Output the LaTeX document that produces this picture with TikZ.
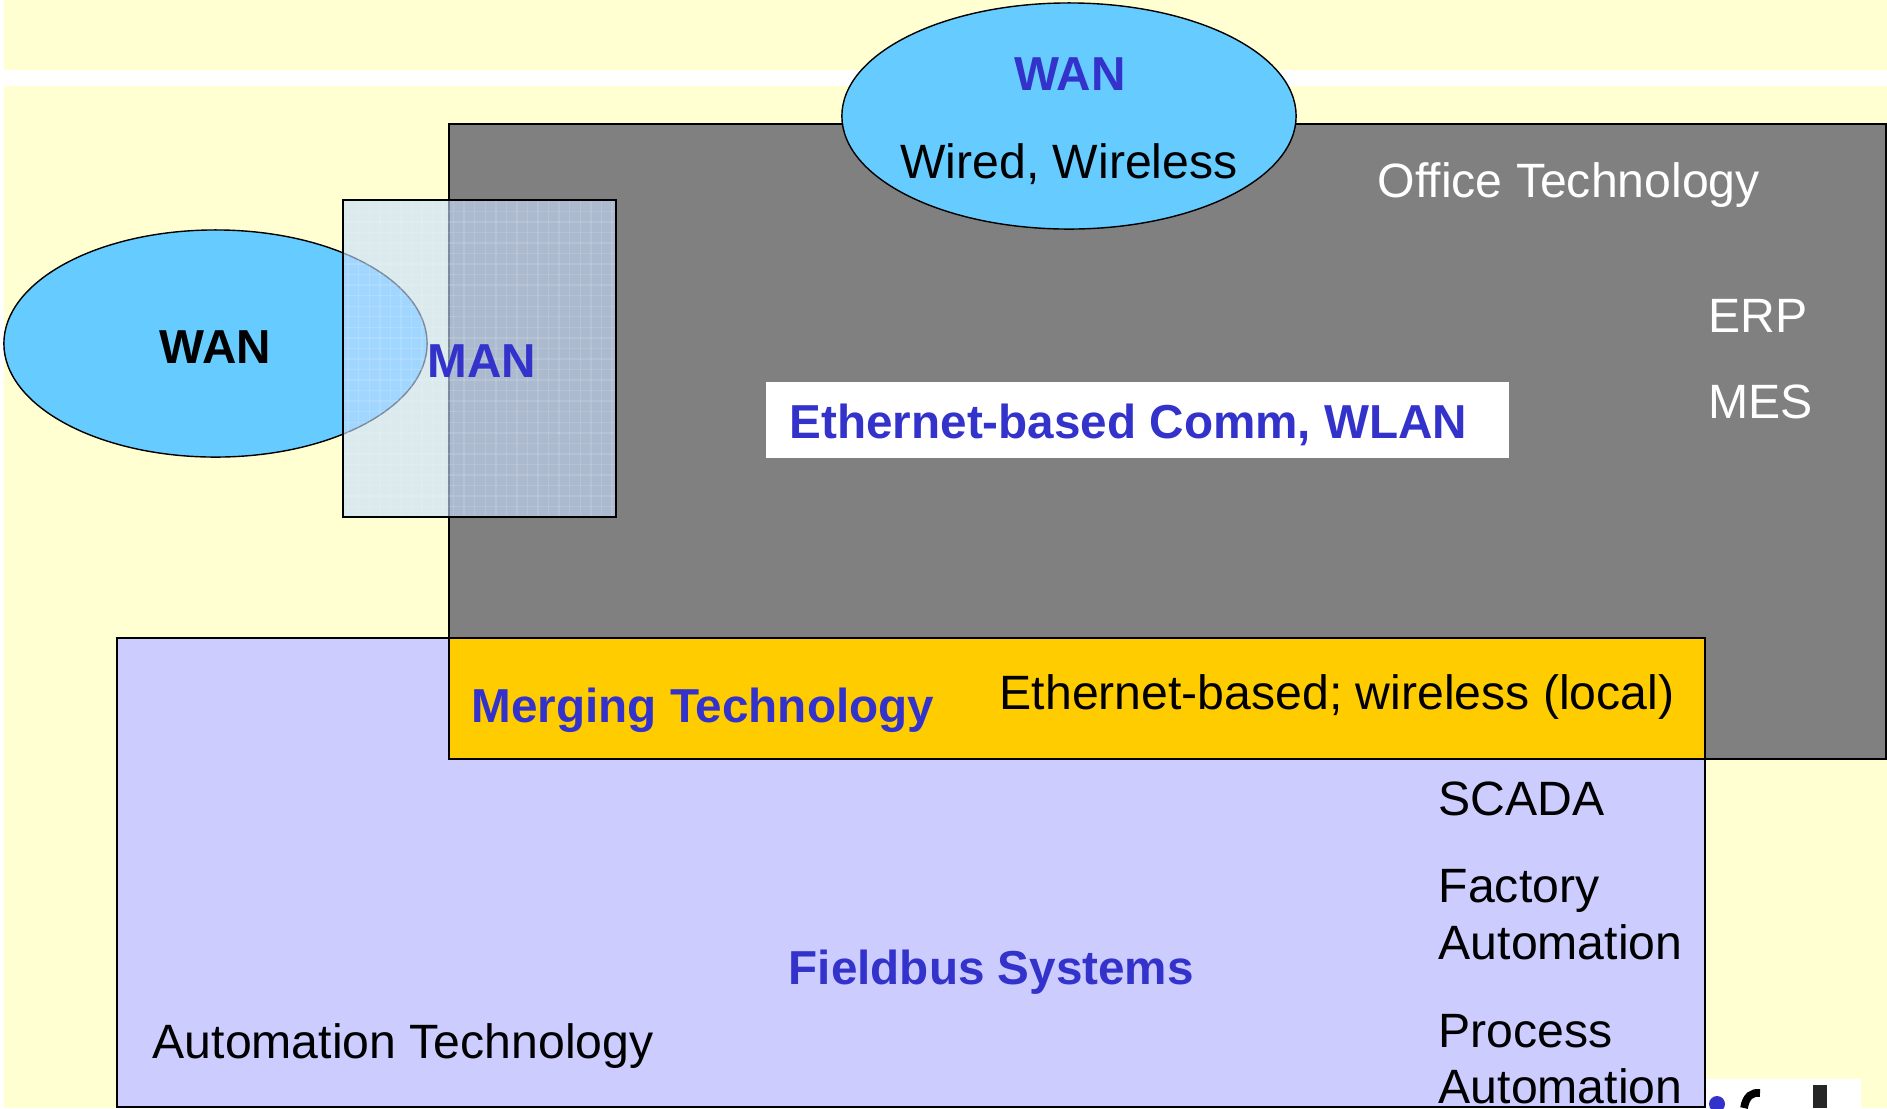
\documentclass[tikz,border=0pt]{standalone}
\usepackage{fontspec}
\setmainfont{Liberation Sans}
\usetikzlibrary{shapes.geometric,patterns}
\definecolor{bgyellow}{HTML}{FFFFD2}
\definecolor{netblue}{HTML}{66CCFF}
\definecolor{txtblue}{HTML}{3333CC}
\definecolor{officegrey}{HTML}{808080}
\definecolor{mergeorange}{HTML}{FFCC00}
\definecolor{autolilac}{HTML}{CCCCFF}
\definecolor{manblue}{HTML}{C6DEFF}

\begin{document}
\begin{tikzpicture}
[x=0.01cm, y=-0.01cm,
lbl/.style={
	inner sep=0pt,
	anchor=base west,
	font=\fontsize{13.7}{16.2}\selectfont,
    },
bold/.style={
	lbl,
	font=\fontsize{13.55}{16.2}\selectfont\bfseries,
	text=txtblue,
    },
cloud/.style={
	ellipse,
	draw,
	fill=netblue,
	inner sep=0pt,
    },]
% background
\fill[white] (0,0) rectangle (1887,1108);
\fill[bgyellow] (4,0) rectangle (1887,70);
\fill[bgyellow] (4,86) rectangle (1887,1108);
\useasboundingbox (0,0) rectangle (1887,1108);

% draw the big areas
\draw[fill=officegrey] (449,124) rectangle (1886,759);
\draw[fill=autolilac] (117,638) rectangle (1705,1107);
\draw[fill=mergeorange] (449,638) rectangle (1705,759);
\fill[white] (766,382) rectangle (1509,458);

% networks
\node[cloud, minimum width=4.23cm, minimum height=2.27cm] (wanleft) at (215.5,343.5){};
\fill[manblue, opacity=0.62] (343,200) rectangle (616,517);
\fill[pattern=grid, pattern color=white, opacity=0.12] (343,200) rectangle (616,517);
\draw (343,200) rectangle (616,517);
\node[cloud, minimum width=4.54cm, minimum height=2.26cm] (wantop) at (1069,116){};

% labels
\node[bold, anchor=base] (wantoplbl) at (1070,90) {WAN};
\node[lbl, anchor=base] (wired) at (1069,178) {Wired, Wireless};
\node[lbl, text=white] (office) at (1377,197) {Office Technology};
\node[lbl, text=white] (erp) at (1708,332) {ERP};
\node[lbl, text=white] (mes) at (1708,418) {MES};
\node[bold] (ethcomm) at (789,438) {Ethernet-based Comm, WLAN};
\node[bold, text=black] (wanleftlbl) at (159,363) {WAN};
\node[bold] (man) at (427,377) {MAN};
\node[bold] (merging) at (471,722) {Merging Technology};
\node[lbl] (ethlocal) at (999,709) {Ethernet-based; wireless (local)};
\node[lbl] (scada) at (1438,815) {SCADA};
\node[lbl] (factory) at (1438,902) {Factory};
\node[lbl] (factoryauto) at (1438,959) {Automation};
\node[lbl] (process) at (1438,1047) {Process};
\node[lbl] (processauto) at (1438,1103) {Automation};
\node[bold] (fieldbus) at (788,984) {Fieldbus Systems};
\node[lbl] (autotech) at (152,1058) {Automation Technology};

% cut logo corner
\fill[white] (1706,1079) rectangle (1861,1108);
\fill[txtblue] (1717,1104) circle (0.08cm);
\draw[line width=2.2pt] (1744,1108) .. controls (1746,1096) and (1752,1092) .. (1760,1093);
\fill[black!85] (1813,1085) rectangle (1827,1108);
\end{tikzpicture}
\end{document}
